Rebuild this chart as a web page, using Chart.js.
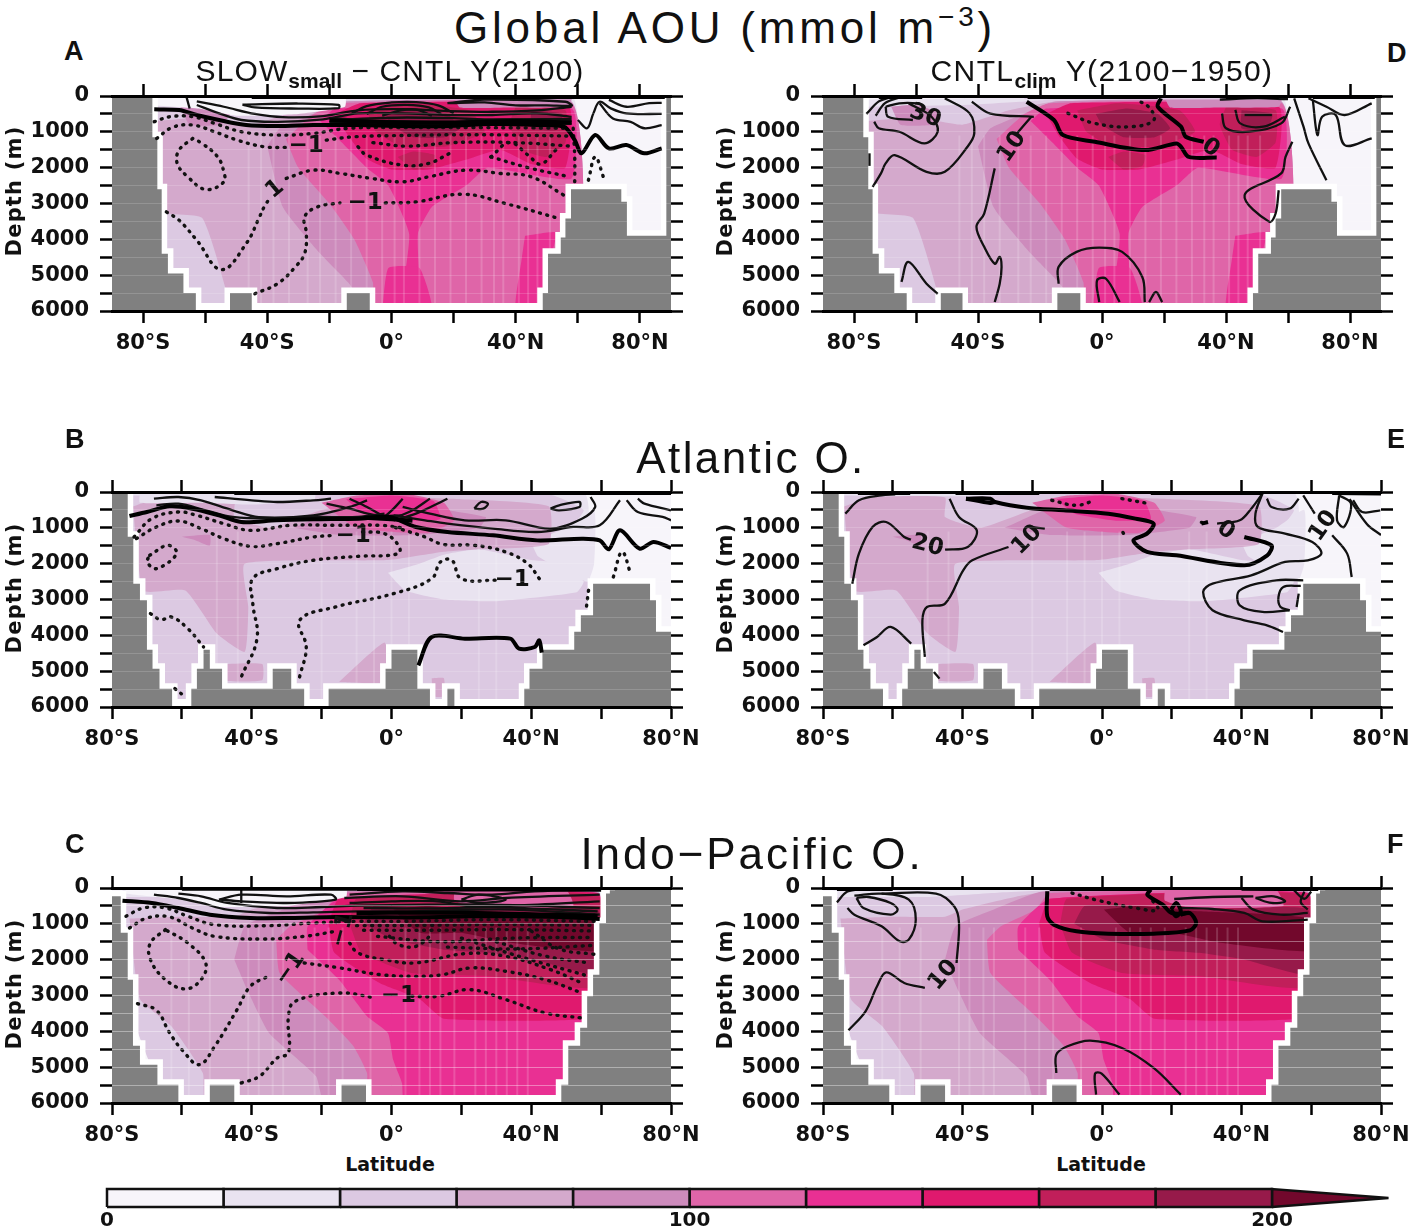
<!DOCTYPE html>
<html>
<head>
<meta charset="utf-8">
<script src="https://cdn.jsdelivr.net/npm/chart.js@4"></script>
<style>
  html, body { margin: 0; padding: 0; background: #fff; }
  #page { position: relative; width: 1410px; height: 1232px; overflow: hidden; }
  canvas { position: absolute; }
  .txt { position: absolute; white-space: nowrap; color: #111; line-height: 1; z-index: 5; }
  .head { font-family: "Liberation Sans", sans-serif; font-size: 44px; transform: translateX(-50%); }
  .sub { font-family: "Liberation Sans", sans-serif; font-size: 30px; transform: translateX(-50%); }
  .sub sub { font-size: 21px; font-weight: 700; letter-spacing: 0; line-height: 0; }
  .tag { font-family: "Liberation Sans", sans-serif; font-weight: 700; font-size: 27px; }
  .lat { font-family: "DejaVu Sans", sans-serif; font-weight: 700; font-size: 19px; transform: translateX(-50%); }
  .dep { font-family: "DejaVu Sans", sans-serif; font-weight: 700; font-size: 21px; letter-spacing: 1.2px; transform: translate(-50%, -50%) rotate(-90deg); }
</style>
</head>
<body>
<div id="page">
  <div class="txt head" style="left:725px;top:6px;letter-spacing:3.8px">Global AOU (mmol m<span style="font-size:28px;position:relative;top:-17px">−3</span>)</div>
  <div class="txt head" style="left:751px;top:436px;letter-spacing:2.4px">Atlantic O.</div>
  <div class="txt head" style="left:752px;top:832px;letter-spacing:2.9px">Indo−Pacific O.</div>
  <div class="txt sub" style="left:390px;top:56px;letter-spacing:1.1px">SLOW<sub>small</sub> − CNTL Y(2100)</div>
  <div class="txt sub" style="left:1102px;top:56px;letter-spacing:1.4px">CNTL<sub>clim</sub> Y(2100−1950)</div>
  <div class="txt tag" style="left:64px;top:38px">A</div>
  <div class="txt tag" style="left:65px;top:426px">B</div>
  <div class="txt tag" style="left:65px;top:831px">C</div>
  <div class="txt tag" style="left:1387px;top:40px">D</div>
  <div class="txt tag" style="left:1387px;top:426px">E</div>
  <div class="txt tag" style="left:1387px;top:831px">F</div>
  <div class="txt dep" style="left:14px;top:191px">Depth (m)</div>
  <div class="txt dep" style="left:14px;top:588px">Depth (m)</div>
  <div class="txt dep" style="left:14px;top:984px">Depth (m)</div>
  <div class="txt dep" style="left:725px;top:191px">Depth (m)</div>
  <div class="txt dep" style="left:725px;top:588px">Depth (m)</div>
  <div class="txt dep" style="left:725px;top:984px">Depth (m)</div>
  <div class="txt lat" style="left:390px;top:1155px">Latitude</div>
  <div class="txt lat" style="left:1101px;top:1155px">Latitude</div>
</div>
<script>
// axis ticks
const latTicks = [-80, -60, -40, -20, 0, 20, 40, 60, 80]
const latLabels = ['80°S', '', '40°S', '', '0°', '', '40°N', '', '80°N']
const depthTicks = [0, 500, 1000, 1500, 2000, 2500, 3000, 3500, 4000, 4500, 5000, 5500, 6000]
const depthLabels = ['0', '', '1000', '', '2000', '', '3000', '', '4000', '', '5000', '', '6000']

// colour bar, mmol m-3, one colour per 20
const barEdges = [0, 20, 40, 60, 80, 100, 120, 140, 160, 180, 200, 220]
const barColors = ['#f7f5fa', '#e9e3f0', '#dcc9e2', '#d4a9cc', '#cd8bbc', '#df65a8', '#e93093', '#e0196e', '#c11f5a', '#971a4a', '#72082c']
const barLabels = [0, 100, 200]

// sea floor: edges in latitude, depth of each step between them
const globalFloorLat = [-90, -77, -75.4, -74, -72, -67, -63, -52, -45, -14.4, -7, 48.7, 50.4, 54.5, 56, 57.8, 74, 75.8, 88.5, 90]
const globalFloorDepth = [0, 1150, 2600, 4400, 4950, 5500, 6000, 5500, 6000, 5500, 6000, 5500, 4400, 3950, 3420, 2600, 2950, 3900, 0]
const atlanticFloorLat = [-80, -75.5, -73.9, -72, -70, -68.4, -66.4, -62.8, -57.3, -55.7, -53.8, -52, -48.5, -34, -28.7, -25, -18, -1.7, 0, 7.4, 11, 16, 18, 38, 39.5, 43.2, 52.3, 54.2, 57.7, 74, 75.7, 80]
const atlanticFloorDepth = [0, 1250, 2560, 3020, 4400, 4930, 5490, 6000, 5490, 4930, 4400, 4930, 5490, 4930, 5490, 6000, 5490, 4930, 4400, 5490, 6000, 5490, 6000, 5490, 4930, 4400, 3900, 3440, 2560, 3020, 3900]
const indoFloorLat = [-80, -77.5, -75.5, -74, -72, -67, -61, -52, -45, -14.3, -7.3, 48.6, 50.6, 54, 56, 57.7, 59.5, 61.4, 62.5, 64, 80]
const indoFloorDepth = [230, 1250, 2560, 4400, 4930, 5490, 6000, 5490, 6000, 5490, 6000, 5490, 4400, 3900, 3020, 2420, 980, 150, 60, 0]

// pale vertical streaks in the shading
const globalStreaks = [-46, -42, -38, -33, -27, -23, -18, -13, -8, -3, 1, 4, 9, 14, 19, 24, 29, 33, 36, 41, 44, 47, 51]
const atlanticStreaks = [-50, -44, -20, -10, -5, 0, 5, 25, 30]
const indoStreaks = [-63, -58, -52, -41, -38, -34, -31, -22, -18, -14, -6, 4, 8, 11, 14, 18, 24, 27, 30, 33, 36, 39]

// filled AOU regions, bottom layer first: [band index, [[lat, depth], ...]]
const globalFill = [
  [1, [[-78, 100], [-30, 50], [-15, 0], [58, 0], [60, 2600], [60, 6000], [-78, 6000]]],
  [2, [[-78, 300], [-45, 250], [-25, 150], [-15, 100], [55, 100], [58, 1000], [58, 6000], [-78, 6000]]],
  [3, [[-76, 700], [-60, 600], [-45, 800], [-30, 400], [-15, 150], [55, 150], [58, 2600], [58, 6000], [-52, 6000], [-53, 5500], [-61, 3400], [-75, 3200]]],
  [4, [[-40, 1400], [-36, 900], [-24, 450], [-15, 150], [58, 150], [58, 6000], [-6, 6000], [-14, 5200], [-24, 4300], [-35, 3100]]],
  [4, [[-68, 300], [-60, 250], [-52, 500], [-55, 800], [-65, 800]]],
  [5, [[-34, 1200], [-25, 500], [-17, 200], [58, 200], [58, 6000], [-5, 6000], [-6, 5200], [-12, 4000], [-20, 3000], [-30, 2000]]],
  [6, [[-23, 700], [-18, 350], [58, 350], [58, 2300], [31, 2000], [24, 2500], [13, 3100], [8.5, 3850], [9, 5800], [3.5, 5800], [5.7, 3850], [-1, 2500], [-8, 2000], [-16, 1300]]],
  [6, [[43, 3900], [53, 3800], [52, 4300], [50, 6000], [40, 6000], [42, 4500]]],
  [6, [[-3, 6000], [-1, 4800], [9, 4800], [13, 6000]]],
  [7, [[-18, 500], [-14, 1100], [-8, 1750], [0, 2050], [12, 2050], [25, 1750], [35, 1500], [45, 1900], [56, 2000], [57, 300], [-10, 200]]],
  [8, [[-8, 400], [-5, 1000], [3, 1400], [18, 1400], [30, 1000], [25, 400], [5, 200]]],
  [8, [[2, 1700], [7, 2050], [13, 1950], [14, 1650], [7, 1550]]],
  [8, [[40, 300], [38, 800], [42, 1500], [50, 1700], [56, 1300], [56, 400]]],
  [9, [[-2, 500], [0, 800], [7, 1150], [17, 1150], [22, 900], [18, 500], [8, 350]]],
  [9, [[45, 400], [45, 900], [53, 950], [55, 500]]],
  [4, [[20, 0], [58, 0], [57, 300], [38, 320], [22, 320]]],
  [2, [[-25, 0], [58, 0], [58, 90], [-25, 90]]]
]
const atlanticFill = [
  [1, [[-78, 50], [-35, 30], [55, 30], [56, 2500], [58, 4000], [40, 6000], [-66, 6000], [-78, 3000]]],
  [2, [[-76, 100], [-40, 120], [-20, 60], [45, 60], [55, 500], [52, 1000], [57, 2500], [56, 3500], [48, 6000], [-66, 6000], [-75, 2800]]],
  [1, [[40, 1400], [42, 1800], [56, 2500], [58, 2000], [58, 500], [50, 1000]]],
  [1, [[-1, 2250], [4, 2750], [15, 3000], [30, 3050], [53, 2800], [55, 2500], [50, 2000], [40, 1900], [25, 1600], [15, 1750], [8, 2000]]],
  [3, [[-74, 400], [-66, 150], [-45, 150], [-45, 700], [-35, 1000], [-20, 500], [0, 150], [20, 200], [45, 400], [45, 1450], [25, 1600], [15, 1670], [-1, 1900], [-42, 2000], [-41, 3200], [-42, 4460], [-50, 3950], [-59, 2750], [-71, 2750]]],
  [3, [[-15, 5300], [-2, 4200], [-1, 5300]]],
  [3, [[-48, 4800], [-37, 4800], [-37, 5250], [-48, 5250]]],
  [3, [[11.5, 5200], [15, 5200], [15, 5700], [12, 5700]]],
  [4, [[-28, 1000], [-15, 450], [0, 300], [27, 700], [25, 1000], [8, 1200], [-15, 1200]]],
  [4, [[-60, 1250], [-52, 1200], [-52, 1500], [-56, 1350]]],
  [5, [[-20, 300], [-10, 100], [5, 60], [15, 300], [18, 800], [10, 1150], [-10, 1000]]],
  [6, [[-13, 200], [0, 100], [12, 250], [14, 750], [4, 800], [-8, 600]]]
]
const indoFill = [
  [1, [[-77, 30], [-30, 20], [59, 20], [59, 6000], [-62, 6000], [-76, 1000]]],
  [2, [[-77, 250], [-50, 250], [-30, 130], [-10, 50], [59, 50], [59, 6000], [-62, 6000], [-76, 3000]]],
  [3, [[-75, 850], [-60, 800], [-45, 800], [-40, 600], [-25, 250], [-15, 100], [59, 100], [59, 6000], [-53, 6000], [-54, 5160], [-63, 3860], [-72, 3100]]],
  [4, [[-45, 2000], [-42, 1070], [-31, 600], [-17, 100], [59, 100], [59, 6000], [-19, 6000], [-21.6, 5250], [-35, 4050], [-41, 2900]]],
  [5, [[-33, 1450], [-29, 1070], [-19, 600], [-15, 140], [59, 140], [59, 6000], [-6.6, 6000], [-7, 5160], [-11, 4400], [-19, 3580], [-32, 2370]]],
  [6, [[-24, 1720], [-24, 1070], [-15, 300], [59, 140], [59, 6000], [3.8, 6000], [3, 5440], [0.5, 4800], [-1, 4050], [-7, 3580], [-15, 2560]]],
  [7, [[-18, 980], [-15, 300], [59, 140], [59, 3000], [55.5, 3650], [15, 3650], [8, 3100], [-3.4, 2650], [-16.4, 1800]]],
  [8, [[-12, 1000], [-10, 300], [59, 200], [59, 2750], [28, 2460], [5.7, 2370], [-8.6, 1800]]],
  [9, [[-8, 1000], [0.5, 1440], [15, 1720], [28, 1810], [41, 2000], [59, 2400], [59, 600], [30, 600], [10, 500], [-5, 500]]],
  [10, [[0.5, 600], [8, 1250], [20, 1250], [34, 1530], [59, 1750], [59, 850], [28, 650], [10, 500]]],
  [5, [[18, 60], [50, 60], [52, 500], [25, 550], [18, 350]]],
  [2, [[-15, 0], [59, 0], [59, 50], [-15, 50]]]
]

// paler water above the zero contour in the left column only
const aSurface = [[0, [[-76, 0], [-15, 0], [-15, 300], [-30, 500], [-50, 550], [-62, 350], [-76, 250]]]]
const bSurface = [[1, [[-72, 0], [-22, 0], [-22, 200], [-40, 350], [-55, 300], [-72, 300]]]]
const cSurface = [[0, [[-76, 0], [-13, 0], [-13, 250], [-30, 500], [-50, 520], [-62, 300], [-76, 150]]]]

// panel A contours
const aThick = [
  [[-76.4, 373], [-68.4, 391], [-62.7, 531], [-55.5, 671], [-46.8, 811], [-36.7, 839], [-25.2, 811], [-10.8, 811], [3.6, 839], [18, 839], [32.4, 783], [46.8, 811], [55.5, 857], [59, 1230], [61.2, 1600], [65.6, 1090], [70, 1463], [75.6, 1370], [81.4, 1600], [87, 1463]],
  [[-45, 25], [88, 25]],
  [[-20, 680], [0, 730], [20, 740], [40, 700], [58, 740]]
]
const aSolid = [
  [[-62.7, 250], [-55.5, 485], [-48.3, 670], [-36.7, 720], [-22, 650], [-10.8, 485], [3.6, 485], [18, 530], [32.4, 530], [46.8, 485], [58, 580]],
  [[-62.7, 150], [-54, 300], [-44, 500], [-35, 590], [-22, 560], [-10.8, 400], [3.6, 370], [18, 420], [32.4, 440], [46.8, 400], [58, 300]],
  [[-48, 240], [-44, 320], [-30, 350], [-17, 340], [-17, 250], [-30, 210], [-48, 240]],
  [[-66, 30], [-65, 350]],
  [[-13, 500], [-8, 280], [0, 180], [8, 170], [15, 260], [20, 480]],
  [[-8, 500], [-3, 300], [5, 250], [12, 320], [16, 500]],
  [[-3, 550], [3, 400], [8, 380], [13, 550]],
  [[-14, 650], [-5, 620], [5, 600], [20, 620], [30, 650], [58, 640]],
  [[-20, 620], [0, 700], [20, 720], [40, 650], [58, 700]],
  [[-20, 720], [0, 770], [20, 780], [40, 750], [58, 780]],
  [[18, 200], [30, 180], [40, 260], [50, 260], [58, 270], [56, 160], [30, 100], [18, 200]],
  [[60, 670], [63, 900], [65, 485], [67, 160], [70.6, 345], [75.6, 485], [87, 500]],
  [[67, 200], [71.3, 625], [77, 720], [81.4, 900], [87, 810]],
  [[70, 110], [75.6, 300], [83, 200], [87, 190]]
]
const aDotted = [
  [[-76.4, 718], [-71.3, 578], [-64, 578], [-57, 764], [-48.3, 997], [-36.7, 1090], [-25.2, 1044], [-13.7, 900], [5, 880], [25, 880], [45, 890], [57, 900]],
  [[-75.6, 1184], [-70.6, 876], [-64, 811], [-57, 997], [-49.7, 1230], [-41, 1417], [-34, 1435]],
  [[-21, 1230], [-12, 1137], [5, 1100], [25, 1080], [45, 1100], [58, 1120]],
  [[-64, 1184], [-68.4, 1510], [-69, 1880], [-65.6, 2255], [-59.8, 2610], [-54, 2400], [-54, 2115], [-56, 1696], [-61, 1324], [-64, 1184]],
  [[-72.5, 3234], [-68.4, 3467], [-62.7, 4026], [-54.8, 4846], [-46.8, 4120], [-42.5, 3374], [-41, 3094], [-38.9, 2815]],
  [[-33.9, 2300], [-25.2, 2070], [-16.6, 2160], [-6.5, 2300], [3.6, 2395], [12, 2255], [24, 2070], [35, 2162], [45, 2255], [55.5, 2768]],
  [[-44, 5518], [-36.7, 5238], [-31, 4772], [-28, 4400], [-27.4, 3840], [-28, 3374], [-23.8, 3094], [-16.6, 2982]],
  [[-2, 2982], [8, 2954], [23, 2740], [36.7, 3000], [54, 3420]],
  [[-10.8, 1417], [-8, 1650], [3.6, 1930], [12, 1880], [18.7, 1600]],
  [[32, 1700], [38, 1300], [44, 1650], [48, 1900], [53, 1500]],
  [[32, 1700], [44, 2000], [57, 2250]],
  [[-6, 1300], [5, 1400], [20, 1300], [40, 1300], [58, 1400]],
  [[58.5, 900], [59, 1700], [59, 2400]],
  [[63.4, 2350], [65.6, 1700], [68.4, 2300]]
]
const aLabels = [[-27.5, 1390, '−1', 0], [-8.5, 3000, '−1', 0], [-37.5, 2600, '1', -40]]

// panel B contours
const bThick = [
  [[-75, 670], [-70, 558], [-63.5, 400], [-57, 465], [-49.4, 650], [-43, 837], [-33, 790], [-22.4, 763], [-9.6, 744], [-0.6, 697], [7, 976], [16, 1116], [29, 1209], [41.7, 1350], [54.5, 1302], [59.6, 1350], [62.2, 1600], [65.4, 1070], [71, 1580], [75, 1395], [80, 1560]],
  [[7.7, 4836], [11.5, 4045], [21, 4092], [34, 4092], [36.5, 4370], [41, 4325], [42.3, 4139], [43, 4483]],
  [[-45, 25], [80, 25]],
  [[-8, 720], [0, 760], [6, 800]]
]
const bSolid = [
  [[-68, 186], [-61, 140], [-54.5, 232], [-45.5, 511], [-38, 700], [-22.4, 650], [-12, 418], [-7, 232]],
  [[-67.3, 372], [-61, 326], [-53.2, 511], [-45.5, 697], [-35, 744], [-22.4, 697], [-9.6, 697], [-2, 604]],
  [[0.6, 651], [9.6, 790], [16, 883], [29, 1023], [41.7, 1116], [52, 976], [59.6, 930], [65.4, 232]],
  [[3.2, 418], [11, 604], [21, 790], [32.7, 790], [45.5, 1023], [54.5, 744], [58.3, 418], [57, 140]],
  [[23.7, 465], [25.6, 279], [27.6, 325], [26.3, 465], [23.7, 465]],
  [[45.5, 465], [48, 372], [53.8, 279], [53.8, 418], [48, 511], [45.5, 465]],
  [[-18.6, 325], [-12, 465], [-4.5, 651], [3.2, 651]],
  [[-12, 186], [-7, 418], [-2, 697]],
  [[3.2, 186], [0.6, 465], [-2, 697]],
  [[11, 186], [6, 511], [-0.6, 790]],
  [[16, 186], [7, 604], [0.6, 790]],
  [[-50.6, 140], [-40, 232], [-32.7, 279], [-22.4, 232], [-17.3, 186]],
  [[67.3, 232], [70.5, 558], [77.6, 697], [80, 790]],
  [[70.5, 186], [72.4, 325], [80, 511]]
]
const bDotted = [
  [[-73.7, 1255], [-68.6, 744], [-61, 558], [-55.8, 651], [-48, 883], [-40.4, 1070], [-28.8, 930], [-16, 930], [-3.2, 930], [3, 1000]],
  [[-73, 1300], [-67.3, 976], [-61, 809], [-54.5, 1023], [-48, 1302], [-40.4, 1516], [-32.7, 1442], [-22.4, 1255], [-16, 1209]],
  [[-8.3, 1116], [-2, 1162], [2, 1488], [2, 1720], [-9.6, 1795], [-22.4, 1906], [-32.7, 2139], [-39.7, 2418], [-39.7, 3115], [-38.5, 4092], [-43, 5160]],
  [[42.3, 2418], [39, 2000], [32.7, 1674], [23.7, 1488], [14.7, 1460], [9.6, 1255], [0.6, 976]],
  [[-26.3, 5160], [-24.4, 4325], [-26.3, 3580], [-16, 3208], [0.6, 2836], [11.5, 2418], [14, 1953], [17.3, 1906], [19.9, 2418], [30, 2465]],
  [[-69.2, 1767], [-64, 1488], [-61.5, 1720], [-67.3, 2139], [-69.9, 1953], [-69.2, 1767]],
  [[-69, 3394], [-66, 3562], [-63, 3488], [-58.3, 3813], [-53.8, 4325]],
  [[-62, 5487], [-59, 5720]],
  [[56.4, 2744], [55.8, 3208]],
  [[63.5, 2372], [66, 1674], [68.6, 2325]]
]
const bLabels = [[-11, 1220, '−1', 0], [34.5, 2465, '−1', 0]]

// panel C contours
const cThick = [
  [[-77, 353], [-68.6, 418], [-61, 558], [-52, 744], [-40.4, 837], [-28.8, 837], [-16, 809], [-3.2, 818], [9.6, 818], [22.4, 790], [35, 790], [48, 809], [59.6, 865]],
  [[-10, 30], [20, 40], [60, 50]],
  [[-10, 700], [20, 690], [59, 780]],
  [[-60, 20], [-10, 20]]
]
const cSolid = [
  [[-68, 186], [-61, 279], [-54.5, 418], [-47, 604], [-35, 697], [-22.4, 680], [-9.6, 651], [3.2, 651], [16, 623], [35, 604], [59.6, 744]],
  [[-61, 158], [-54.5, 232], [-47, 418], [-32.7, 558], [-20, 530], [-9.6, 493], [9.6, 465], [28.8, 465], [59.6, 558]],
  [[-49.4, 325], [-43, 186], [-30, 232], [-17.3, 186], [-16, 325], [-30, 418], [-43, 372], [-49.4, 325]],
  [[-43, 46], [-43, 418]],
  [[-13.5, 279], [3.2, 232], [19.9, 372], [32.7, 279], [59.6, 186]],
  [[-12, 186], [3.2, 93], [16, 140], [28.8, 186], [41, 93], [59.6, 46]],
  [[-12, 418], [0, 372], [13, 372], [23, 511], [35, 493], [59.6, 372]],
  [[20, 325], [25, 186], [32.7, 325], [25, 418], [20, 325]],
  [[-8, 560], [10, 570], [30, 540], [59, 650]]
]
const cDotted = [
  [[-76, 790], [-71, 558], [-64.7, 558], [-58.3, 790], [-50.6, 1023], [-35, 1050], [-22.4, 976], [-9.6, 930], [3.2, 930], [28.8, 883], [58, 930]],
  [[-75, 1116], [-70, 837], [-63.5, 809], [-57, 1116], [-50.6, 1350], [-36.5, 1423], [-25, 1350], [-16, 1209]],
  [[-12, 1535], [-9.6, 1813], [-1.9, 2000], [7, 2090], [21, 1832], [32.7, 1906], [45.5, 2278], [54.5, 2650]],
  [[-64.7, 1162], [-69, 1535], [-69, 2000], [-64.7, 2557], [-59, 2818], [-54.5, 2557], [-53.2, 2092], [-58.3, 1535], [-64.7, 1162]],
  [[-72.7, 3227], [-67.3, 3413], [-63.5, 4045], [-59.6, 4557], [-55, 4929], [-50.6, 4417], [-44.2, 3395], [-40.4, 2743], [-35.3, 2465]],
  [[-25, 2092], [-14.7, 2232], [-3.2, 2418], [7, 2465], [14.7, 2418], [22.4, 2232], [32.7, 2325], [44, 2558], [54.5, 2930]],
  [[-43, 5440], [-37.8, 5255], [-32.7, 4743], [-29.5, 4603], [-29.5, 3580], [-27.6, 3162], [-14.7, 2930], [-4.5, 3069]],
  [[5.8, 3022], [13.5, 3022], [22.4, 2836], [32.7, 3115], [44, 3488], [54.5, 3627]],
  [[-0.6, 1350], [2, 1580], [7, 1628], [11.5, 1302]],
  [[-10, 1050], [10, 1040], [30, 1020], [58, 1040]],
  [[-8, 1180], [12, 1180], [32, 1160], [58, 1200]],
  [[-4, 1350], [14, 1500], [34, 1400], [58, 1380]],
  [[16, 1650], [36, 1700], [58, 1600]],
  [[30, 1500], [44, 1900], [57, 2100]],
  [[20, 1400], [38, 1950], [56, 2450]],
  [[40, 1200], [48, 1700], [58, 1850]]
]
const cLabels = [[-14, 1170, '−1', -75], [-29, 2250, '−1', -55], [2, 3020, '−1', 0]]

// panel D contours
const dThick = [
  [[-24.3, 160], [-15.5, 670], [-12.6, 1090], [-2.3, 1277], [13.8, 1510], [24, 1323], [25.5, 1417], [28, 1700], [37, 1715]],
  [[19, 65], [18, 300], [25.5, 857], [27, 1137], [32.8, 1277]],
  [[-72, 25], [-58, 25]],
  [[-24, 25], [18, 25]],
  [[40, 25], [57, 25]],
  [[68, 30], [88, 30]]
]
const dSolid = [
  [[-42, 160], [-36, 490], [-22, 580]],
  [[-28, 1100], [-22.8, 578]],
  [[-34.6, 2020], [-38, 3280], [-40.5, 3650], [-38, 4210], [-34.6, 4680], [-33, 4490], [-32.4, 4770], [-33, 5240], [-34.6, 5750]],
  [[-73.5, 718], [-72, 900], [-65.4, 997], [-57.3, 1323], [-53, 997], [-55, 578], [-62.4, 205]],
  [[-69.8, 300], [-69, 578], [-61, 670]],
  [[-58, 250], [-59.5, 205], [-65.4, 205], [-69.8, 300]],
  [[-74, 2535], [-71.3, 2160], [-69.8, 1880], [-66.9, 1650], [-56.6, 2115], [-50.7, 2115], [-43.4, 1417], [-41.2, 1044], [-42.7, 485], [-50.7, 65]],
  [[-75, 1600], [-75, 1950]],
  [[38.7, 485], [40, 900], [47.5, 997], [57.8, 764], [60.7, 300]],
  [[43, 390], [44.6, 764], [52, 857], [59, 578]],
  [[46, 530], [54.8, 530]],
  [[61.4, 1277], [59.2, 1700], [57.8, 2160], [46, 2768], [54, 3513], [56, 3280], [57, 2630]],
  [[62, 65], [65, 857], [66.6, 1323], [72.4, 2350]],
  [[68, 110], [69.5, 1090], [71, 578], [75.4, 530], [78.3, 1370], [87, 1184]],
  [[66.6, 65], [72.4, 298], [78.3, 530], [87, 205]],
  [[-14, 5240], [-14, 4770], [-8.2, 4350], [-0.9, 4230], [6.5, 4350], [13, 5050], [13.8, 5750]],
  [[-0.9, 5750], [-1.6, 5145], [1.3, 5100], [5.7, 5750]],
  [[15.2, 5750], [17.4, 5470], [19.4, 5750]],
  [[-64.7, 5190], [-62.5, 4630], [-56.6, 5240], [-53, 5520]],
  [[-76, 500], [-72, 150], [-68, 30]],
  [[-73, 550], [-70, 200], [-65, 30]],
  [[38, 100], [50, 60], [60, 90]]
]
const dDotted = [
  [[-11, 485], [-2.3, 764], [9.4, 857], [16.7, 670], [15, 300], [10.9, 110]]
]
const dLabels = [[-57, 560, '30', 20], [-29, 1420, '10', -55], [35, 1450, '0', 35]]

// panel E contours
const eThick = [
  [[-39, 186], [-32, 186], [-30.7, 279], [-21.6, 437], [-11, 511], [1.8, 604], [9.6, 744], [14.8, 883], [12.9, 1162], [9, 1349], [12.9, 1674], [21.3, 1767], [40.8, 2046], [47.4, 1767], [48.6, 1488], [40.8, 1255]],
  [[30.4, 837], [28.5, 883]],
  [[-39, 186], [-32, 307], [-30.7, 279]],
  [[-70, 25], [-55, 25]],
  [[-42, 25], [-18, 25]],
  [[14, 25], [46, 25]],
  [[66, 30], [80, 40]]
]
const eSolid = [
  [[-71.6, 2558], [-69.7, 1720], [-65.8, 976], [-61.9, 837], [-56.7, 1255], [-54.8, 1330]],
  [[-45, 1610], [-38.5, 1535], [-35.9, 1070], [-41, 697], [-43.7, 186]],
  [[-50.8, 4600], [-51.5, 3580], [-50.2, 3208], [-45, 3115], [-39.8, 2185], [-37.2, 1906], [-26.8, 1535]],
  [[-16.4, 1023], [-20.3, 976]],
  [[-68.4, 4278], [-64.5, 4045], [-60.6, 3767], [-54.7, 4231]],
  [[-48.2, 5022], [-46.6, 5208]],
  [[-73.6, 604], [-69.7, 232], [-63.2, 93], [-59.3, 65]],
  [[46, 46], [42.8, 465], [39.5, 790], [33, 883]],
  [[46, 46], [44, 604], [44.7, 976], [52.5, 1162], [60.3, 1395], [62.9, 1720], [59, 1906], [52.5, 1953], [42.8, 2325], [31.7, 2558], [29, 2790], [31.7, 3300], [40.8, 3580], [47.3, 3720], [51.9, 3906]],
  [[57.7, 2465], [50, 2465], [39.5, 2744], [39.5, 3162], [46, 3348], [53.8, 3300]],
  [[57, 2620], [52, 2650], [50.6, 2930], [51.2, 3208], [53.8, 3300]],
  [[56.4, 2836], [55.8, 3208]],
  [[47.3, 186], [48.6, 418], [53.8, 465], [56.4, 186]],
  [[57.7, 93], [61, 604]],
  [[66, 1209], [70.3, 1720], [71.6, 2370]],
  [[68, 93], [67.4, 790], [69.4, 976], [71.4, 325], [68, 93]],
  [[72, 232], [74.6, 558], [79.8, 511]],
  [[71, 200], [76, 900], [80, 1200]]
]
const eDotted = [
  [[-14.4, 232], [-7.3, 372], [-2, 232]],
  [[5.7, 186], [13.5, 325]],
  [[6, 1130], [6.2, 1160]],
  [[28.5, 850], [30, 880]]
]
const eLabels = [[-50, 1500, '20', 15], [-21.5, 1340, '10', -45], [35.5, 1070, '0', 35], [63.5, 950, '10', -55]]

// panel F contours
const fThick = [
  [[-15.7, 93], [-15.7, 790], [-13.8, 1023], [-7.3, 1209], [1.8, 1274], [14.8, 1274], [25.2, 1181], [27, 976], [25.2, 697], [22.6, 744]],
  [[14, 46], [13, 186], [17.4, 465], [20, 700], [25.2, 697]],
  [[19.8, 604], [21.3, 418], [22.6, 651], [21.3, 790], [19.8, 604]],
  [[-76, 25], [-60, 25]],
  [[-15, 25], [14, 25]],
  [[40, 20], [62, 30]]
]
const fSolid = [
  [[20.7, 307], [31.7, 251], [43.4, 232]],
  [[22.6, 558], [31.7, 586], [40.8, 697], [46, 930], [59, 883]],
  [[40, 279], [43.4, 604], [51.2, 744], [59, 697]],
  [[44, 279], [48.6, 418], [52.5, 372], [49.3, 232], [44, 279]],
  [[58, 100], [57, 400], [59, 600]],
  [[55, 60], [58, 300], [60, 100]],
  [[-73, 558], [-71, 744], [-63.2, 1070], [-58, 1488], [-55.4, 1442], [-53.4, 883], [-55.4, 325], [-63.2, 158], [-71, 214]],
  [[-70.4, 279], [-68.4, 558], [-60.6, 744], [-58.6, 604], [-60.6, 418], [-67, 251], [-70.4, 279]],
  [[-63.2, 158], [-47.6, 158], [-42.4, 511], [-41, 976], [-41.7, 2092]],
  [[-50.8, 2790], [-56.7, 2650], [-61.9, 2353], [-64.5, 2743], [-67.8, 3441], [-72.7, 3971]],
  [[-13.1, 5162], [-13.1, 4650], [-9.9, 4418], [-3.4, 4260], [5.7, 4464], [14.8, 5022], [22.6, 5766]],
  [[-1.7, 5766], [-2, 5180], [-0.1, 5180], [5, 5766]],
  [[-76, 400], [-73, 100], [-68, 30]]
]
const fDotted = [
  [[-8.6, 140], [-2, 325], [9.6, 558], [16, 604], [13.5, 232]]
]
const fLabels = [[-45.5, 2430, '10', -50]]

const tickFont = { family: "'DejaVu Sans', sans-serif", size: 21, weight: 'bold' }
const levelLine = { thick: 4, solid: 2.3, dotted: 3.4 }

const toXY = pts => pts.map(([x, y]) => ({ x, y }))

// closed stepped outline of the sea floor
function floorOutline(lats, depths) {
  const pts = [[lats[0], 6000]]
  depths.forEach((d, i) => {
    pts.push([lats[i], d])
    pts.push([lats[i + 1], d])
  })
  pts.push([lats[lats.length - 1], 6000])
  pts.push([lats[0], 6000])
  return pts
}

const base = { type: 'scatter', showLine: true, pointRadius: 0, pointHoverRadius: 0, xAxisID: 'x', yAxisID: 'y' }

function panelDatasets(fill, streaks, floorLat, floorDepth, thick, solid, dotted) {
  const layers = []
  layers.push({ ...base, data: toXY([[-90, 0], [90, 0], [90, 6000], [-90, 6000], [-90, 0]]), borderWidth: 0, fill: 'shape', backgroundColor: barColors[0] })
  fill.forEach(([level, pts]) => {
    layers.push({ ...base, data: toXY([...pts, pts[0]]), borderWidth: 0, tension: 0.15, fill: 'shape', backgroundColor: barColors[level] })
  })
  streaks.forEach(lat => {
    layers.push({ ...base, data: toXY([[lat, 1100], [lat, 5800]]), borderColor: 'rgba(255,255,255,0.17)', borderWidth: 2, fill: false })
  })
  const outline = toXY(floorOutline(floorLat, floorDepth))
  layers.push({ ...base, data: outline, borderColor: '#fff', borderWidth: 11, borderJoinStyle: 'miter', fill: false })
  layers.push({ ...base, data: toXY([[-90, 5780], [90, 5780], [90, 6000], [-90, 6000], [-90, 5780]]), borderWidth: 0, fill: 'shape', backgroundColor: '#fff' })
  layers.push({ ...base, data: outline, borderWidth: 0, fill: 'shape', backgroundColor: '#808080' })
  dotted.forEach(pts => {
    layers.push({ ...base, data: toXY(pts), borderColor: '#111', borderWidth: levelLine.dotted, borderDash: [1, 6.5], borderCapStyle: 'round', tension: 0.4, fill: false })
  })
  solid.forEach(pts => {
    layers.push({ ...base, data: toXY(pts), borderColor: '#111', borderWidth: levelLine.solid, tension: 0.35, fill: false })
  })
  thick.forEach(pts => {
    layers.push({ ...base, data: toXY(pts), borderColor: '#000', borderWidth: levelLine.thick, tension: 0.3, fill: false })
  })
  // Chart.js paints the first dataset last
  return layers.reverse()
}

// contour numbers, placed through the chart's own scales
const contourLabels = {
  id: 'contourLabels',
  afterDatasetsDraw(chart, args, opts) {
    const { ctx, scales } = chart
    ;(opts.items || []).forEach(([lat, depth, text, angle]) => {
      ctx.save()
      ctx.translate(scales.x.getPixelForValue(lat), scales.y.getPixelForValue(depth))
      ctx.rotate(angle * Math.PI / 180)
      ctx.font = "bold 23px 'DejaVu Sans', sans-serif"
      ctx.fillStyle = '#111'
      ctx.textAlign = 'center'
      ctx.textBaseline = 'middle'
      ctx.fillText(text, 0, 0)
      ctx.restore()
    })
  }
}

const PLOT_W = { left: 112, right: 29, top: 16 }

// keep the plot box where it is set, whatever the edge labels need
function noEdgePadding(s) {
  s.paddingLeft = s.paddingRight = s.paddingTop = s.paddingBottom = 0
}

function makePanel(cfg) {
  const plotWidth = cfg.plotRight - cfg.plotLeft
  const canvas = document.createElement('canvas')
  const left = cfg.plotLeft - PLOT_W.left
  const top = cfg.plotTop - PLOT_W.top
  const bottomH = 50
  canvas.width = plotWidth + PLOT_W.left + PLOT_W.right
  canvas.height = 215 + PLOT_W.top + bottomH
  canvas.style.left = left + 'px'
  canvas.style.top = top + 'px'
  document.getElementById('page').appendChild(canvas)

  const latAxis = {
    type: 'linear', min: cfg.latMin, max: cfg.latMax,
    afterBuildTicks: s => { s.ticks = latTicks.filter(v => v >= cfg.latMin && v <= cfg.latMax).map(value => ({ value })) },
    border: { display: true, color: '#000', width: 3, z: 2 },
    grid: { drawOnChartArea: false, tickColor: '#000', tickWidth: 2.5, tickLength: 12 }
  }
  const depthAxis = {
    type: 'linear', min: 0, max: 6000, reverse: true,
    afterBuildTicks: s => { s.ticks = depthTicks.map(value => ({ value })) },
    border: { display: false },
    grid: { color: cfg.stripe, lineWidth: 1, z: 1, tickColor: '#000', tickWidth: 2.5, tickLength: 12 }
  }

  new Chart(canvas, {
    data: { datasets: panelDatasets(cfg.fill, cfg.streaks, cfg.floorLat, cfg.floorDepth, cfg.thick, cfg.solid, cfg.dotted) },
    plugins: [contourLabels],
    options: {
      responsive: false,
      animation: false,
      layout: { padding: 0 },
      plugins: {
        legend: { display: false },
        tooltip: { enabled: false },
        contourLabels: { items: cfg.labels }
      },
      scales: {
        x: {
          ...latAxis, position: 'bottom',
          afterFit: s => { s.height = bottomH; noEdgePadding(s) },
          ticks: {
            font: tickFont, color: '#111', padding: 8, maxRotation: 0, autoSkip: false,
            callback: v => latLabels[latTicks.indexOf(v)]
          }
        },
        x2: {
          ...latAxis, position: 'top',
          afterFit: s => { s.height = PLOT_W.top; noEdgePadding(s) },
          ticks: { display: false }
        },
        y: {
          ...depthAxis, position: 'left',
          afterFit: s => { s.width = PLOT_W.left; noEdgePadding(s) },
          ticks: {
            font: tickFont, color: '#111', padding: 11, autoSkip: false,
            callback: v => depthLabels[depthTicks.indexOf(v)]
          }
        },
        y2: {
          ...depthAxis, position: 'right',
          grid: { ...depthAxis.grid, drawOnChartArea: false },
          afterFit: s => { s.width = PLOT_W.right; noEdgePadding(s) },
          ticks: { display: false }
        }
      }
    }
  })
}

const faint = 'rgba(255,255,255,0.16)'
const strong = 'rgba(255,255,255,0.38)'

makePanel({ plotLeft: 112, plotRight: 671, plotTop: 96, latMin: -90, latMax: 90, stripe: faint, fill: [...globalFill, ...aSurface], streaks: globalStreaks, floorLat: globalFloorLat, floorDepth: globalFloorDepth, thick: aThick, solid: aSolid, dotted: aDotted, labels: aLabels })
makePanel({ plotLeft: 112, plotRight: 671, plotTop: 492, latMin: -80, latMax: 80, stripe: faint, fill: [...atlanticFill, ...bSurface], streaks: atlanticStreaks, floorLat: atlanticFloorLat, floorDepth: atlanticFloorDepth, thick: bThick, solid: bSolid, dotted: bDotted, labels: bLabels })
makePanel({ plotLeft: 112, plotRight: 671, plotTop: 888, latMin: -80, latMax: 80, stripe: strong, fill: [...indoFill, ...cSurface], streaks: indoStreaks, floorLat: indoFloorLat, floorDepth: indoFloorDepth, thick: cThick, solid: cSolid, dotted: cDotted, labels: cLabels })
makePanel({ plotLeft: 823, plotRight: 1381, plotTop: 96, latMin: -90, latMax: 90, stripe: faint, fill: globalFill, streaks: globalStreaks, floorLat: globalFloorLat, floorDepth: globalFloorDepth, thick: dThick, solid: dSolid, dotted: dDotted, labels: dLabels })
makePanel({ plotLeft: 823, plotRight: 1381, plotTop: 492, latMin: -80, latMax: 80, stripe: faint, fill: atlanticFill, streaks: atlanticStreaks, floorLat: atlanticFloorLat, floorDepth: atlanticFloorDepth, thick: eThick, solid: eSolid, dotted: eDotted, labels: eLabels })
makePanel({ plotLeft: 823, plotRight: 1381, plotTop: 888, latMin: -80, latMax: 80, stripe: strong, fill: indoFill, streaks: indoStreaks, floorLat: indoFloorLat, floorDepth: indoFloorDepth, thick: fThick, solid: fSolid, dotted: fDotted, labels: fLabels })

// colour bar
function makeBar() {
  const canvas = document.createElement('canvas')
  canvas.width = 1323
  canvas.height = 47
  canvas.style.left = '87px'
  canvas.style.top = '1185px'
  document.getElementById('page').appendChild(canvas)
  const last = barColors.length - 1
  const boxes = barColors.map((color, i) => {
    const a = barEdges[i], b = barEdges[i + 1]
    const outline = i === last ? [[a, 0], [a, 1], [b, 0.5], [a, 0]] : [[a, 0], [b, 0], [b, 1], [a, 1], [a, 0]]
    return { type: 'scatter', showLine: true, pointRadius: 0, data: toXY(outline), fill: 'shape', backgroundColor: color, borderColor: '#111', borderWidth: 2.5, clip: false }
  })
  new Chart(canvas, {
    data: { datasets: boxes },
    options: {
      responsive: false,
      animation: false,
      layout: { padding: { left: 20, right: 21.5, top: 4 } },
      plugins: { legend: { display: false }, tooltip: { enabled: false } },
      scales: {
        x: {
          type: 'linear', min: 0, max: 220,
          afterBuildTicks: s => { s.ticks = barLabels.map(value => ({ value })) },
          afterFit: s => { s.height = 25; noEdgePadding(s) },
          border: { display: false },
          grid: { display: false, drawTicks: false },
          ticks: { font: { ...tickFont, size: 20 }, color: '#111', padding: 2, maxRotation: 0, autoSkip: false }
        },
        y: { type: 'linear', min: 0, max: 1, display: false }
      }
    }
  })
}
makeBar()
</script>
</body>
</html>
